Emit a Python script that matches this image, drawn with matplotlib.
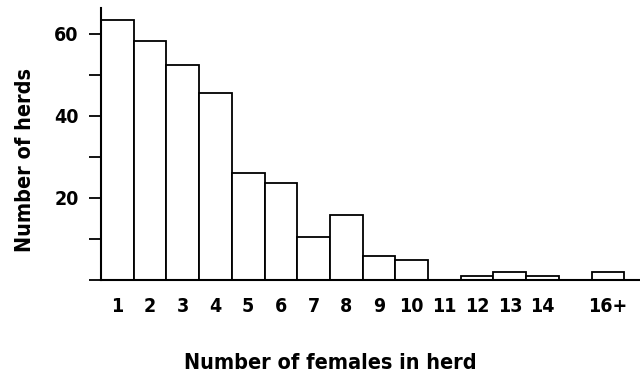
import matplotlib.pyplot as plt

# herd size classes and how many herds fall in each
sizes = ['1', '2', '3', '4', '5', '6', '7', '8', '9', '10', '11', '12', '13', '14', '16+']
positions = [1, 2, 3, 4, 5, 6, 7, 8, 9, 10, 11, 12, 13, 14, 16]
herds = [63.4, 58.3, 52.3, 45.5, 26.1, 23.7, 10.6, 15.8, 5.8, 4.8, 0, 0.9, 1.9, 1.0, 1.9]

yticks = [0, 10, 20, 30, 40, 50, 60]
ylabels = ['', '', '20', '', '40', '', '60']

plt.rcParams['font.family'] = 'DejaVu Sans'
plt.rcParams['font.stretch'] = 'condensed'
plt.rcParams['font.weight'] = 'bold'

fig = plt.figure(figsize=(6.4, 3.8), dpi=100)
ax = fig.add_axes([101 / 640, 1 - 280 / 380, 539 / 640, 272 / 380])

ax.bar(positions, herds, width=1.0, color='white', edgecolor='black', linewidth=1.3)

ax.set_xlim(0.5, 16.98)
ax.set_ylim(0, 66.3)
ax.set_xticks(positions)
ax.set_xticklabels(sizes, fontsize=14, fontweight='bold', fontstretch='condensed')
ax.tick_params(axis='x', length=0, pad=12)
ax.set_yticks(yticks)
ax.set_yticklabels(ylabels, fontsize=14, fontweight='bold', fontstretch='condensed')
ax.tick_params(axis='y', length=9, width=1.3, pad=7)

for side in ['top', 'right']:
    ax.spines[side].set_visible(False)
for side in ['left', 'bottom']:
    ax.spines[side].set_linewidth(1.5)

fig.text(25 / 640, 1 - 160 / 380, 'Number of herds', rotation=90, ha='center', va='center',
         fontsize=15.5, fontweight='bold', fontstretch='condensed')
fig.text(330 / 640, 1 - 363 / 380, 'Number of females in herd', ha='center', va='center',
         fontsize=15.5, fontweight='bold', fontstretch='condensed')

fig.savefig('out.png', dpi=100)
